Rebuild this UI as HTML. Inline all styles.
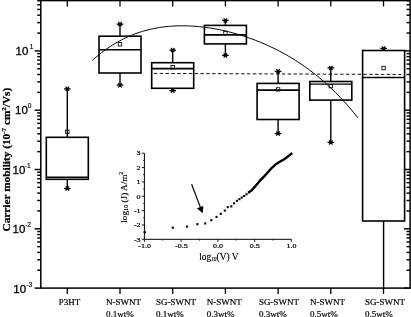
<!DOCTYPE html>
<html><head><meta charset="utf-8"><style>
html,body{margin:0;padding:0;background:#fff;}
body{width:411px;height:317px;overflow:hidden;}
svg{display:block;will-change:transform;}
</style></head><body>
<svg width="411" height="317" viewBox="0 0 411 317">
<rect x="40.8" y="0.6" width="369.30" height="287.50" fill="none" stroke="#000" stroke-width="1.5"/>
<line x1="34.60" y1="288.10" x2="40.8" y2="288.10" stroke="#000" stroke-width="1.45"/>
<line x1="403.90" y1="288.10" x2="410.1" y2="288.10" stroke="#000" stroke-width="1.45"/>
<line x1="37.20" y1="270.25" x2="40.8" y2="270.25" stroke="#000" stroke-width="1.45"/>
<line x1="406.50" y1="270.25" x2="410.1" y2="270.25" stroke="#000" stroke-width="1.45"/>
<line x1="37.20" y1="259.81" x2="40.8" y2="259.81" stroke="#000" stroke-width="1.45"/>
<line x1="406.50" y1="259.81" x2="410.1" y2="259.81" stroke="#000" stroke-width="1.45"/>
<line x1="37.20" y1="252.40" x2="40.8" y2="252.40" stroke="#000" stroke-width="1.45"/>
<line x1="406.50" y1="252.40" x2="410.1" y2="252.40" stroke="#000" stroke-width="1.45"/>
<line x1="37.20" y1="246.65" x2="40.8" y2="246.65" stroke="#000" stroke-width="1.45"/>
<line x1="406.50" y1="246.65" x2="410.1" y2="246.65" stroke="#000" stroke-width="1.45"/>
<line x1="37.20" y1="241.96" x2="40.8" y2="241.96" stroke="#000" stroke-width="1.45"/>
<line x1="406.50" y1="241.96" x2="410.1" y2="241.96" stroke="#000" stroke-width="1.45"/>
<line x1="37.20" y1="237.99" x2="40.8" y2="237.99" stroke="#000" stroke-width="1.45"/>
<line x1="406.50" y1="237.99" x2="410.1" y2="237.99" stroke="#000" stroke-width="1.45"/>
<line x1="37.20" y1="234.55" x2="40.8" y2="234.55" stroke="#000" stroke-width="1.45"/>
<line x1="406.50" y1="234.55" x2="410.1" y2="234.55" stroke="#000" stroke-width="1.45"/>
<line x1="37.20" y1="231.51" x2="40.8" y2="231.51" stroke="#000" stroke-width="1.45"/>
<line x1="406.50" y1="231.51" x2="410.1" y2="231.51" stroke="#000" stroke-width="1.45"/>
<line x1="34.60" y1="228.80" x2="40.8" y2="228.80" stroke="#000" stroke-width="1.45"/>
<line x1="403.90" y1="228.80" x2="410.1" y2="228.80" stroke="#000" stroke-width="1.45"/>
<line x1="37.20" y1="210.95" x2="40.8" y2="210.95" stroke="#000" stroke-width="1.45"/>
<line x1="406.50" y1="210.95" x2="410.1" y2="210.95" stroke="#000" stroke-width="1.45"/>
<line x1="37.20" y1="200.51" x2="40.8" y2="200.51" stroke="#000" stroke-width="1.45"/>
<line x1="406.50" y1="200.51" x2="410.1" y2="200.51" stroke="#000" stroke-width="1.45"/>
<line x1="37.20" y1="193.10" x2="40.8" y2="193.10" stroke="#000" stroke-width="1.45"/>
<line x1="406.50" y1="193.10" x2="410.1" y2="193.10" stroke="#000" stroke-width="1.45"/>
<line x1="37.20" y1="187.35" x2="40.8" y2="187.35" stroke="#000" stroke-width="1.45"/>
<line x1="406.50" y1="187.35" x2="410.1" y2="187.35" stroke="#000" stroke-width="1.45"/>
<line x1="37.20" y1="182.66" x2="40.8" y2="182.66" stroke="#000" stroke-width="1.45"/>
<line x1="406.50" y1="182.66" x2="410.1" y2="182.66" stroke="#000" stroke-width="1.45"/>
<line x1="37.20" y1="178.69" x2="40.8" y2="178.69" stroke="#000" stroke-width="1.45"/>
<line x1="406.50" y1="178.69" x2="410.1" y2="178.69" stroke="#000" stroke-width="1.45"/>
<line x1="37.20" y1="175.25" x2="40.8" y2="175.25" stroke="#000" stroke-width="1.45"/>
<line x1="406.50" y1="175.25" x2="410.1" y2="175.25" stroke="#000" stroke-width="1.45"/>
<line x1="37.20" y1="172.21" x2="40.8" y2="172.21" stroke="#000" stroke-width="1.45"/>
<line x1="406.50" y1="172.21" x2="410.1" y2="172.21" stroke="#000" stroke-width="1.45"/>
<line x1="34.60" y1="169.50" x2="40.8" y2="169.50" stroke="#000" stroke-width="1.45"/>
<line x1="403.90" y1="169.50" x2="410.1" y2="169.50" stroke="#000" stroke-width="1.45"/>
<line x1="37.20" y1="151.65" x2="40.8" y2="151.65" stroke="#000" stroke-width="1.45"/>
<line x1="406.50" y1="151.65" x2="410.1" y2="151.65" stroke="#000" stroke-width="1.45"/>
<line x1="37.20" y1="141.21" x2="40.8" y2="141.21" stroke="#000" stroke-width="1.45"/>
<line x1="406.50" y1="141.21" x2="410.1" y2="141.21" stroke="#000" stroke-width="1.45"/>
<line x1="37.20" y1="133.80" x2="40.8" y2="133.80" stroke="#000" stroke-width="1.45"/>
<line x1="406.50" y1="133.80" x2="410.1" y2="133.80" stroke="#000" stroke-width="1.45"/>
<line x1="37.20" y1="128.05" x2="40.8" y2="128.05" stroke="#000" stroke-width="1.45"/>
<line x1="406.50" y1="128.05" x2="410.1" y2="128.05" stroke="#000" stroke-width="1.45"/>
<line x1="37.20" y1="123.36" x2="40.8" y2="123.36" stroke="#000" stroke-width="1.45"/>
<line x1="406.50" y1="123.36" x2="410.1" y2="123.36" stroke="#000" stroke-width="1.45"/>
<line x1="37.20" y1="119.39" x2="40.8" y2="119.39" stroke="#000" stroke-width="1.45"/>
<line x1="406.50" y1="119.39" x2="410.1" y2="119.39" stroke="#000" stroke-width="1.45"/>
<line x1="37.20" y1="115.95" x2="40.8" y2="115.95" stroke="#000" stroke-width="1.45"/>
<line x1="406.50" y1="115.95" x2="410.1" y2="115.95" stroke="#000" stroke-width="1.45"/>
<line x1="37.20" y1="112.91" x2="40.8" y2="112.91" stroke="#000" stroke-width="1.45"/>
<line x1="406.50" y1="112.91" x2="410.1" y2="112.91" stroke="#000" stroke-width="1.45"/>
<line x1="34.60" y1="110.20" x2="40.8" y2="110.20" stroke="#000" stroke-width="1.45"/>
<line x1="403.90" y1="110.20" x2="410.1" y2="110.20" stroke="#000" stroke-width="1.45"/>
<line x1="37.20" y1="92.35" x2="40.8" y2="92.35" stroke="#000" stroke-width="1.45"/>
<line x1="406.50" y1="92.35" x2="410.1" y2="92.35" stroke="#000" stroke-width="1.45"/>
<line x1="37.20" y1="81.91" x2="40.8" y2="81.91" stroke="#000" stroke-width="1.45"/>
<line x1="406.50" y1="81.91" x2="410.1" y2="81.91" stroke="#000" stroke-width="1.45"/>
<line x1="37.20" y1="74.50" x2="40.8" y2="74.50" stroke="#000" stroke-width="1.45"/>
<line x1="406.50" y1="74.50" x2="410.1" y2="74.50" stroke="#000" stroke-width="1.45"/>
<line x1="37.20" y1="68.75" x2="40.8" y2="68.75" stroke="#000" stroke-width="1.45"/>
<line x1="406.50" y1="68.75" x2="410.1" y2="68.75" stroke="#000" stroke-width="1.45"/>
<line x1="37.20" y1="64.06" x2="40.8" y2="64.06" stroke="#000" stroke-width="1.45"/>
<line x1="406.50" y1="64.06" x2="410.1" y2="64.06" stroke="#000" stroke-width="1.45"/>
<line x1="37.20" y1="60.09" x2="40.8" y2="60.09" stroke="#000" stroke-width="1.45"/>
<line x1="406.50" y1="60.09" x2="410.1" y2="60.09" stroke="#000" stroke-width="1.45"/>
<line x1="37.20" y1="56.65" x2="40.8" y2="56.65" stroke="#000" stroke-width="1.45"/>
<line x1="406.50" y1="56.65" x2="410.1" y2="56.65" stroke="#000" stroke-width="1.45"/>
<line x1="37.20" y1="53.61" x2="40.8" y2="53.61" stroke="#000" stroke-width="1.45"/>
<line x1="406.50" y1="53.61" x2="410.1" y2="53.61" stroke="#000" stroke-width="1.45"/>
<line x1="34.60" y1="50.90" x2="40.8" y2="50.90" stroke="#000" stroke-width="1.45"/>
<line x1="403.90" y1="50.90" x2="410.1" y2="50.90" stroke="#000" stroke-width="1.45"/>
<line x1="37.20" y1="33.05" x2="40.8" y2="33.05" stroke="#000" stroke-width="1.45"/>
<line x1="406.50" y1="33.05" x2="410.1" y2="33.05" stroke="#000" stroke-width="1.45"/>
<line x1="37.20" y1="22.61" x2="40.8" y2="22.61" stroke="#000" stroke-width="1.45"/>
<line x1="406.50" y1="22.61" x2="410.1" y2="22.61" stroke="#000" stroke-width="1.45"/>
<line x1="37.20" y1="15.20" x2="40.8" y2="15.20" stroke="#000" stroke-width="1.45"/>
<line x1="406.50" y1="15.20" x2="410.1" y2="15.20" stroke="#000" stroke-width="1.45"/>
<line x1="37.20" y1="9.45" x2="40.8" y2="9.45" stroke="#000" stroke-width="1.45"/>
<line x1="406.50" y1="9.45" x2="410.1" y2="9.45" stroke="#000" stroke-width="1.45"/>
<line x1="37.20" y1="4.76" x2="40.8" y2="4.76" stroke="#000" stroke-width="1.45"/>
<line x1="406.50" y1="4.76" x2="410.1" y2="4.76" stroke="#000" stroke-width="1.45"/>
<line x1="37.20" y1="0.79" x2="40.8" y2="0.79" stroke="#000" stroke-width="1.45"/>
<line x1="406.50" y1="0.79" x2="410.1" y2="0.79" stroke="#000" stroke-width="1.45"/>
<line x1="67.30" y1="288.1" x2="67.30" y2="293.90" stroke="#000" stroke-width="1.3"/>
<line x1="67.30" y1="0.6" x2="67.30" y2="6.40" stroke="#000" stroke-width="1.3"/>
<line x1="120.00" y1="288.1" x2="120.00" y2="293.90" stroke="#000" stroke-width="1.3"/>
<line x1="120.00" y1="0.6" x2="120.00" y2="6.40" stroke="#000" stroke-width="1.3"/>
<line x1="172.70" y1="288.1" x2="172.70" y2="293.90" stroke="#000" stroke-width="1.3"/>
<line x1="172.70" y1="0.6" x2="172.70" y2="6.40" stroke="#000" stroke-width="1.3"/>
<line x1="225.40" y1="288.1" x2="225.40" y2="293.90" stroke="#000" stroke-width="1.3"/>
<line x1="225.40" y1="0.6" x2="225.40" y2="6.40" stroke="#000" stroke-width="1.3"/>
<line x1="278.10" y1="288.1" x2="278.10" y2="293.90" stroke="#000" stroke-width="1.3"/>
<line x1="278.10" y1="0.6" x2="278.10" y2="6.40" stroke="#000" stroke-width="1.3"/>
<line x1="330.80" y1="288.1" x2="330.80" y2="293.90" stroke="#000" stroke-width="1.3"/>
<line x1="330.80" y1="0.6" x2="330.80" y2="6.40" stroke="#000" stroke-width="1.3"/>
<line x1="383.50" y1="288.1" x2="383.50" y2="293.90" stroke="#000" stroke-width="1.3"/>
<line x1="383.50" y1="0.6" x2="383.50" y2="6.40" stroke="#000" stroke-width="1.3"/>
<text x="15.52" y="55.07" font-family="Liberation Sans, sans-serif" font-size="11.5" stroke="#000" stroke-width="0.3" fill="#000">10</text>
<text x="29.70" y="49.07" font-family="Liberation Sans, sans-serif" font-size="6.6" stroke="#000" stroke-width="0.15" fill="#000">1</text>
<text x="15.12" y="114.22" font-family="Liberation Sans, sans-serif" font-size="11.5" stroke="#000" stroke-width="0.3" fill="#000">10</text>
<text x="27.80" y="108.22" font-family="Liberation Sans, sans-serif" font-size="6.6" stroke="#000" stroke-width="0.15" fill="#000">0</text>
<text x="12.52" y="174.07" font-family="Liberation Sans, sans-serif" font-size="11.5" stroke="#000" stroke-width="0.3" fill="#000">10</text>
<text x="24.80" y="168.07" font-family="Liberation Sans, sans-serif" font-size="6.6" stroke="#000" stroke-width="0.15" fill="#000">-1</text>
<text x="12.52" y="233.22" font-family="Liberation Sans, sans-serif" font-size="11.5" stroke="#000" stroke-width="0.3" fill="#000">10</text>
<text x="25.10" y="227.22" font-family="Liberation Sans, sans-serif" font-size="6.6" stroke="#000" stroke-width="0.15" fill="#000">-2</text>
<text x="13.32" y="292.82" font-family="Liberation Sans, sans-serif" font-size="11.5" stroke="#000" stroke-width="0.3" fill="#000">10</text>
<text x="26.20" y="286.82" font-family="Liberation Sans, sans-serif" font-size="6.6" stroke="#000" stroke-width="0.15" fill="#000">-3</text>
<text transform="translate(10.4,159.6) rotate(-90)" text-anchor="middle" font-family="Liberation Serif, serif" font-weight="bold" font-size="11.3" stroke="#000" stroke-width="0.25" fill="#000">Carrier mobility (10<tspan dy="-4.2" font-size="7">-7</tspan><tspan dy="4.2"> cm</tspan><tspan dy="-4.2" font-size="7">2</tspan><tspan dy="4.2">/Vs)</tspan></text>
<text x="58.80" y="304.7" font-family="Liberation Serif, serif" font-size="9" stroke="#000" stroke-width="0.2" fill="#000">P3HT</text>
<text x="106.00" y="304.7" font-family="Liberation Serif, serif" font-size="9" stroke="#000" stroke-width="0.2" fill="#000">N-SWNT</text>
<text x="106.00" y="316.8" font-family="Liberation Serif, serif" font-size="9" stroke="#000" stroke-width="0.2" fill="#000">0.1wt%</text>
<text x="156.00" y="304.7" font-family="Liberation Serif, serif" font-size="9" stroke="#000" stroke-width="0.2" fill="#000">SG-SWNT</text>
<text x="156.00" y="316.8" font-family="Liberation Serif, serif" font-size="9" stroke="#000" stroke-width="0.2" fill="#000">0.1wt%</text>
<text x="206.70" y="304.7" font-family="Liberation Serif, serif" font-size="9" stroke="#000" stroke-width="0.2" fill="#000">N-SWNT</text>
<text x="206.70" y="316.8" font-family="Liberation Serif, serif" font-size="9" stroke="#000" stroke-width="0.2" fill="#000">0.3wt%</text>
<text x="259.10" y="304.7" font-family="Liberation Serif, serif" font-size="9" stroke="#000" stroke-width="0.2" fill="#000">SG-SWNT</text>
<text x="259.10" y="316.8" font-family="Liberation Serif, serif" font-size="9" stroke="#000" stroke-width="0.2" fill="#000">0.3wt%</text>
<text x="310.00" y="304.7" font-family="Liberation Serif, serif" font-size="9" stroke="#000" stroke-width="0.2" fill="#000">N-SWNT</text>
<text x="310.00" y="316.8" font-family="Liberation Serif, serif" font-size="9" stroke="#000" stroke-width="0.2" fill="#000">0.5wt%</text>
<text x="365.00" y="304.7" font-family="Liberation Serif, serif" font-size="9" stroke="#000" stroke-width="0.2" fill="#000">SG-SWNT</text>
<text x="365.00" y="316.8" font-family="Liberation Serif, serif" font-size="9" stroke="#000" stroke-width="0.2" fill="#000">0.5wt%</text>
<line x1="67.30" y1="88.80" x2="67.30" y2="137.30" stroke="#000" stroke-width="1.4"/>
<line x1="67.30" y1="179.30" x2="67.30" y2="188.50" stroke="#000" stroke-width="1.4"/>
<rect x="46.30" y="137.30" width="42.00" height="42.00" fill="none" stroke="#000" stroke-width="1.6"/>
<line x1="46.30" y1="177.20" x2="88.30" y2="177.20" stroke="#000" stroke-width="1.6"/>
<path d="M64.00,88.80L70.60,88.80M65.60,86.70L69.00,90.90M65.60,90.90L69.00,86.70" stroke="#000" stroke-width="1.25" fill="none"/>
<path d="M64.00,188.50L70.60,188.50M65.60,186.40L69.00,190.60M65.60,190.60L69.00,186.40" stroke="#000" stroke-width="1.25" fill="none"/>
<rect x="65.60" y="130.10" width="3.4" height="3.4" fill="none" stroke="#111" stroke-width="0.9"/>
<line x1="120.00" y1="24.10" x2="120.00" y2="36.20" stroke="#000" stroke-width="1.4"/>
<line x1="120.00" y1="73.00" x2="120.00" y2="85.20" stroke="#000" stroke-width="1.4"/>
<rect x="99.00" y="36.20" width="42.00" height="36.80" fill="none" stroke="#000" stroke-width="1.6"/>
<line x1="99.00" y1="49.70" x2="141.00" y2="49.70" stroke="#000" stroke-width="1.6"/>
<path d="M116.70,24.10L123.30,24.10M118.30,22.00L121.70,26.20M118.30,26.20L121.70,22.00" stroke="#000" stroke-width="1.25" fill="none"/>
<path d="M116.70,85.20L123.30,85.20M118.30,83.10L121.70,87.30M118.30,87.30L121.70,83.10" stroke="#000" stroke-width="1.25" fill="none"/>
<rect x="118.30" y="42.60" width="3.4" height="3.4" fill="none" stroke="#111" stroke-width="0.9"/>
<line x1="172.70" y1="50.10" x2="172.70" y2="62.70" stroke="#000" stroke-width="1.4"/>
<line x1="172.70" y1="88.30" x2="172.70" y2="90.60" stroke="#000" stroke-width="1.4"/>
<rect x="151.70" y="62.70" width="42.00" height="25.60" fill="none" stroke="#000" stroke-width="1.6"/>
<line x1="151.70" y1="68.60" x2="193.70" y2="68.60" stroke="#000" stroke-width="1.6"/>
<path d="M169.40,50.10L176.00,50.10M171.00,48.00L174.40,52.20M171.00,52.20L174.40,48.00" stroke="#000" stroke-width="1.25" fill="none"/>
<path d="M169.40,90.60L176.00,90.60M171.00,88.50L174.40,92.70M171.00,92.70L174.40,88.50" stroke="#000" stroke-width="1.25" fill="none"/>
<rect x="171.00" y="65.50" width="3.4" height="3.4" fill="none" stroke="#111" stroke-width="0.9"/>
<line x1="225.40" y1="20.40" x2="225.40" y2="25.40" stroke="#000" stroke-width="1.4"/>
<line x1="225.40" y1="43.90" x2="225.40" y2="55.40" stroke="#000" stroke-width="1.4"/>
<rect x="204.40" y="25.40" width="42.00" height="18.50" fill="none" stroke="#000" stroke-width="1.6"/>
<line x1="204.40" y1="34.90" x2="246.40" y2="34.90" stroke="#000" stroke-width="1.6"/>
<path d="M222.10,20.40L228.70,20.40M223.70,18.30L227.10,22.50M223.70,22.50L227.10,18.30" stroke="#000" stroke-width="1.25" fill="none"/>
<path d="M222.10,55.40L228.70,55.40M223.70,53.30L227.10,57.50M223.70,57.50L227.10,53.30" stroke="#000" stroke-width="1.25" fill="none"/>
<rect x="223.70" y="31.30" width="3.4" height="3.4" fill="none" stroke="#111" stroke-width="0.9"/>
<line x1="278.10" y1="71.30" x2="278.10" y2="83.40" stroke="#000" stroke-width="1.4"/>
<line x1="278.10" y1="119.50" x2="278.10" y2="133.60" stroke="#000" stroke-width="1.4"/>
<rect x="257.10" y="83.40" width="42.00" height="36.10" fill="none" stroke="#000" stroke-width="1.6"/>
<line x1="257.10" y1="90.10" x2="299.10" y2="90.10" stroke="#000" stroke-width="1.6"/>
<path d="M274.80,71.30L281.40,71.30M276.40,69.20L279.80,73.40M276.40,73.40L279.80,69.20" stroke="#000" stroke-width="1.25" fill="none"/>
<path d="M274.80,133.60L281.40,133.60M276.40,131.50L279.80,135.70M276.40,135.70L279.80,131.50" stroke="#000" stroke-width="1.25" fill="none"/>
<rect x="276.40" y="87.70" width="3.4" height="3.4" fill="none" stroke="#111" stroke-width="0.9"/>
<line x1="330.80" y1="67.90" x2="330.80" y2="81.50" stroke="#000" stroke-width="1.4"/>
<line x1="330.80" y1="100.10" x2="330.80" y2="142.40" stroke="#000" stroke-width="1.4"/>
<rect x="309.80" y="81.50" width="42.00" height="18.60" fill="none" stroke="#000" stroke-width="1.6"/>
<line x1="309.80" y1="84.10" x2="351.80" y2="84.10" stroke="#000" stroke-width="1.2"/>
<path d="M327.50,67.90L334.10,67.90M329.10,65.80L332.50,70.00M329.10,70.00L332.50,65.80" stroke="#000" stroke-width="1.25" fill="none"/>
<path d="M327.50,142.40L334.10,142.40M329.10,140.30L332.50,144.50M329.10,144.50L332.50,140.30" stroke="#000" stroke-width="1.25" fill="none"/>
<rect x="329.10" y="84.40" width="3.4" height="3.4" fill="none" stroke="#111" stroke-width="0.9"/>
<line x1="383.60" y1="48.40" x2="383.60" y2="50.50" stroke="#000" stroke-width="1.4"/>
<line x1="383.60" y1="221.00" x2="383.60" y2="288.10" stroke="#000" stroke-width="1.4"/>
<rect x="362.60" y="50.50" width="42.00" height="170.50" fill="none" stroke="#000" stroke-width="1.6"/>
<line x1="362.60" y1="77.50" x2="404.60" y2="77.50" stroke="#000" stroke-width="1.6"/>
<path d="M380.30,48.40L386.90,48.40M381.90,46.30L385.30,50.50M381.90,50.50L385.30,46.30" stroke="#000" stroke-width="1.25" fill="none"/>
<rect x="381.90" y="66.40" width="3.4" height="3.4" fill="none" stroke="#111" stroke-width="0.9"/>
<line x1="153.9" y1="73.4" x2="401.3" y2="74.5" stroke="#000" stroke-width="0.95" stroke-dasharray="3.4 2.42"/>
<path d="M92.40,60.37 L94.63,58.38 L96.86,56.47 L99.09,54.63 L101.32,52.86 L103.55,51.17 L105.78,49.54 L108.01,47.98 L110.24,46.48 L112.47,45.05 L114.70,43.69 L116.93,42.38 L119.16,41.13 L121.39,39.95 L123.62,38.82 L125.85,37.75 L128.08,36.73 L130.31,35.76 L132.54,34.85 L134.77,33.99 L137.01,33.17 L139.24,32.41 L141.47,31.69 L143.70,31.02 L145.93,30.40 L148.16,29.82 L150.39,29.28 L152.62,28.79 L154.85,28.33 L157.08,27.92 L159.31,27.54 L161.54,27.21 L163.77,26.91 L166.00,26.65 L168.23,26.42 L170.46,26.23 L172.69,26.08 L174.92,25.96 L177.15,25.87 L179.38,25.81 L181.61,25.79 L183.84,25.79 L186.07,25.83 L188.30,25.89 L190.53,25.99 L192.76,26.12 L194.99,26.27 L197.22,26.45 L199.45,26.66 L201.68,26.90 L203.91,27.16 L206.14,27.45 L208.37,27.76 L210.60,28.10 L212.83,28.47 L215.06,28.86 L217.29,29.28 L219.52,29.73 L221.75,30.19 L223.98,30.69 L226.22,31.20 L228.45,31.75 L230.68,32.31 L232.91,32.90 L235.14,33.52 L237.37,34.16 L239.60,34.83 L241.83,35.52 L244.06,36.23 L246.29,36.97 L248.52,37.74 L250.75,38.53 L252.98,39.35 L255.21,40.19 L257.44,41.06 L259.67,41.96 L261.90,42.88 L264.13,43.83 L266.36,44.81 L268.59,45.82 L270.82,46.85 L273.05,47.92 L275.28,49.01 L277.51,50.14 L279.74,51.30 L281.97,52.49 L284.20,53.71 L286.43,54.96 L288.66,56.25 L290.89,57.57 L293.12,58.92 L295.35,60.32 L297.58,61.74 L299.81,63.21 L302.04,64.71 L304.27,66.26 L306.50,67.84 L308.73,69.46 L310.96,71.13 L313.19,72.84 L315.43,74.59 L317.66,76.39 L319.89,78.23 L322.12,80.13 L324.35,82.07 L326.58,84.05 L328.81,86.09 L331.04,88.19 L333.27,90.33 L335.50,92.53 L337.73,94.78 L339.96,97.10 L342.19,99.47 L344.42,101.90 L346.65,104.39 L348.88,106.94 L351.11,109.56 L353.34,112.24 L355.57,114.99 L357.80,117.81" fill="none" stroke="#000" stroke-width="1.0"/>
<line x1="144.4" y1="153.2" x2="144.4" y2="239.3" stroke="#000" stroke-width="1.0"/>
<line x1="144.4" y1="239.3" x2="291.3" y2="239.3" stroke="#000" stroke-width="1.0"/>
<line x1="141.80" y1="239.30" x2="144.4" y2="239.30" stroke="#000" stroke-width="0.9"/>
<line x1="143.10" y1="232.12" x2="144.4" y2="232.12" stroke="#000" stroke-width="0.8"/>
<text transform="translate(140.6,241.55) scale(1.15,1)" text-anchor="end" font-family="Liberation Serif, serif" font-size="7" stroke="#000" stroke-width="0.22" fill="#000">-3</text>
<line x1="141.80" y1="224.95" x2="144.4" y2="224.95" stroke="#000" stroke-width="0.9"/>
<line x1="143.10" y1="217.78" x2="144.4" y2="217.78" stroke="#000" stroke-width="0.8"/>
<text transform="translate(140.6,227.20) scale(1.15,1)" text-anchor="end" font-family="Liberation Serif, serif" font-size="7" stroke="#000" stroke-width="0.22" fill="#000">-2</text>
<line x1="141.80" y1="210.60" x2="144.4" y2="210.60" stroke="#000" stroke-width="0.9"/>
<line x1="143.10" y1="203.43" x2="144.4" y2="203.43" stroke="#000" stroke-width="0.8"/>
<text transform="translate(140.6,212.85) scale(1.15,1)" text-anchor="end" font-family="Liberation Serif, serif" font-size="7" stroke="#000" stroke-width="0.22" fill="#000">-1</text>
<line x1="141.80" y1="196.25" x2="144.4" y2="196.25" stroke="#000" stroke-width="0.9"/>
<line x1="143.10" y1="189.07" x2="144.4" y2="189.07" stroke="#000" stroke-width="0.8"/>
<text transform="translate(140.6,198.50) scale(1.15,1)" text-anchor="end" font-family="Liberation Serif, serif" font-size="7" stroke="#000" stroke-width="0.22" fill="#000">0</text>
<line x1="141.80" y1="181.90" x2="144.4" y2="181.90" stroke="#000" stroke-width="0.9"/>
<line x1="143.10" y1="174.72" x2="144.4" y2="174.72" stroke="#000" stroke-width="0.8"/>
<text transform="translate(140.6,184.15) scale(1.15,1)" text-anchor="end" font-family="Liberation Serif, serif" font-size="7" stroke="#000" stroke-width="0.22" fill="#000">1</text>
<line x1="141.80" y1="167.55" x2="144.4" y2="167.55" stroke="#000" stroke-width="0.9"/>
<line x1="143.10" y1="160.38" x2="144.4" y2="160.38" stroke="#000" stroke-width="0.8"/>
<text transform="translate(140.6,169.80) scale(1.15,1)" text-anchor="end" font-family="Liberation Serif, serif" font-size="7" stroke="#000" stroke-width="0.22" fill="#000">2</text>
<line x1="141.80" y1="153.20" x2="144.4" y2="153.20" stroke="#000" stroke-width="0.9"/>
<text transform="translate(140.6,155.45) scale(1.15,1)" text-anchor="end" font-family="Liberation Serif, serif" font-size="7" stroke="#000" stroke-width="0.22" fill="#000">3</text>
<line x1="144.40" y1="239.3" x2="144.40" y2="241.90" stroke="#000" stroke-width="0.9"/>
<line x1="162.76" y1="239.3" x2="162.76" y2="240.60" stroke="#000" stroke-width="0.8"/>
<text transform="translate(144.60,247.5) scale(1.15,1)" text-anchor="middle" font-family="Liberation Serif, serif" font-size="7" stroke="#000" stroke-width="0.22" fill="#000">-1.0</text>
<line x1="181.12" y1="239.3" x2="181.12" y2="241.90" stroke="#000" stroke-width="0.9"/>
<line x1="199.49" y1="239.3" x2="199.49" y2="240.60" stroke="#000" stroke-width="0.8"/>
<text transform="translate(181.32,247.5) scale(1.15,1)" text-anchor="middle" font-family="Liberation Serif, serif" font-size="7" stroke="#000" stroke-width="0.22" fill="#000">-0.5</text>
<line x1="217.85" y1="239.3" x2="217.85" y2="241.90" stroke="#000" stroke-width="0.9"/>
<line x1="236.21" y1="239.3" x2="236.21" y2="240.60" stroke="#000" stroke-width="0.8"/>
<text transform="translate(218.05,247.5) scale(1.15,1)" text-anchor="middle" font-family="Liberation Serif, serif" font-size="7" stroke="#000" stroke-width="0.22" fill="#000">0.0</text>
<line x1="254.58" y1="239.3" x2="254.58" y2="241.90" stroke="#000" stroke-width="0.9"/>
<line x1="272.94" y1="239.3" x2="272.94" y2="240.60" stroke="#000" stroke-width="0.8"/>
<text transform="translate(254.78,247.5) scale(1.15,1)" text-anchor="middle" font-family="Liberation Serif, serif" font-size="7" stroke="#000" stroke-width="0.22" fill="#000">0.5</text>
<line x1="291.30" y1="239.3" x2="291.30" y2="241.90" stroke="#000" stroke-width="0.9"/>
<text transform="translate(291.50,247.5) scale(1.15,1)" text-anchor="middle" font-family="Liberation Serif, serif" font-size="7" stroke="#000" stroke-width="0.22" fill="#000">1.0</text>
<text x="199.2" y="259.8" font-family="Liberation Serif, serif" font-size="9.4" stroke="#000" stroke-width="0.15" fill="#000">log<tspan font-style="italic" font-size="5.4" dy="1.4">10</tspan><tspan dy="-1.4">(V) V</tspan></text>
<text transform="translate(126.5,222.7) rotate(-90)" font-family="Liberation Serif, serif" font-size="9.2" stroke="#000" stroke-width="0.15" fill="#000">log<tspan font-size="6.2" dy="1.6">10</tspan><tspan dy="-1.6"> (J) A/m</tspan><tspan font-size="6" dy="-3.8">2</tspan></text>
<rect x="143.85" y="231.25" width="2.1" height="2.1" fill="#000"/>
<rect x="171.75" y="226.65" width="2.1" height="2.1" fill="#000"/>
<rect x="186.05" y="225.55" width="2.1" height="2.1" fill="#000"/>
<rect x="196.35" y="223.15" width="2.1" height="2.1" fill="#000"/>
<rect x="204.15" y="222.35" width="2.1" height="2.1" fill="#000"/>
<rect x="210.25" y="219.15" width="2.1" height="2.1" fill="#000"/>
<rect x="215.45" y="215.85" width="2.1" height="2.1" fill="#000"/>
<rect x="219.75" y="212.75" width="2.1" height="2.1" fill="#000"/>
<rect x="223.75" y="209.55" width="2.1" height="2.1" fill="#000"/>
<rect x="226.65" y="206.05" width="2.1" height="2.1" fill="#000"/>
<rect x="230.25" y="205.35" width="2.1" height="2.1" fill="#000"/>
<rect x="233.05" y="202.25" width="2.1" height="2.1" fill="#000"/>
<rect x="235.85" y="199.75" width="2.1" height="2.1" fill="#000"/>
<rect x="238.35" y="198.15" width="2.1" height="2.1" fill="#000"/>
<rect x="240.65" y="196.55" width="2.1" height="2.1" fill="#000"/>
<rect x="243.05" y="194.95" width="2.1" height="2.1" fill="#000"/>
<rect x="245.45" y="193.15" width="2.1" height="2.1" fill="#000"/>
<rect x="247.95" y="191.15" width="2.1" height="2.1" fill="#000"/>
<path d="M249.00,192.20 L251.40,190.60 L254.70,186.90 L259.50,181.20 L264.20,176.40 L268.80,171.30 L271.90,167.80 L275.90,164.20 L279.80,161.80 L283.80,159.50 L287.70,156.70 L290.50,154.30 L291.30,153.80" fill="none" stroke="#000" stroke-width="2.4" stroke-linejoin="round" stroke-linecap="square"/>
<line x1="191.6" y1="184.2" x2="200.5" y2="207.6" stroke="#000" stroke-width="1.2"/>
<path d="M202.7,213.3 L196.9,208.3 L203.4,205.9 Z" fill="#000"/>
</svg>
</body></html>
